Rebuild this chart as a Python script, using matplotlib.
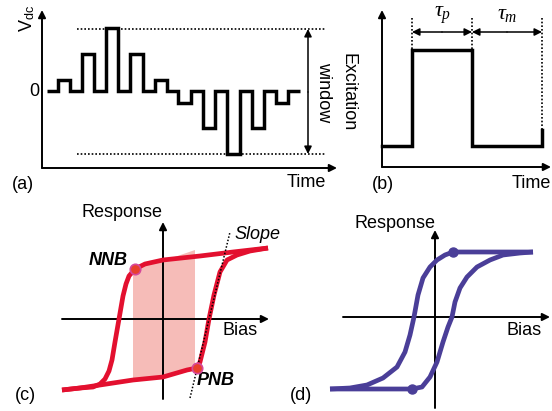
import matplotlib.pyplot as plt
import numpy as np

plt.rcParams['font.family'] = ['Liberation Sans', 'DejaVu Sans']
plt.rcParams['mathtext.fontset'] = 'custom'
plt.rcParams['mathtext.rm'] = 'Liberation Sans'
plt.rcParams['mathtext.it'] = 'Liberation Serif:italic'

# (a) excitation pulse train, pixel coords (y down)
a_edges = [47, 58, 70, 82, 94, 106, 118, 130, 143, 155, 167, 178,
           191, 203, 215, 227, 240, 252, 264, 276, 288, 300]
a_levels = [0, 11, 0, 37, 0, 63, 0, 37, 0, 11, 0, -12,
            0, -37, 0, -63, 0, -37, 0, -12, 0]
a_zero = 91

# (b) single pulse
b_x = [382, 412, 412, 472, 472, 542, 542]
b_y = [146, 146, 50, 50, 146, 146, 130]

# (c) hysteresis loop, red
c_low_x = [62, 80, 100, 133, 163, 187, 197, 200, 205, 209, 214, 220, 227, 237, 250, 268]
c_low_y = [390, 388, 385, 380, 377, 370, 368, 362, 342, 319, 295, 272, 260, 255, 251, 248]
c_up_x = [268, 233, 200, 163, 145, 135, 129, 126, 123, 119, 115, 112, 109, 105, 100, 93, 80, 62]
c_up_y = [248, 252, 256, 260, 264, 269, 276, 284, 296, 319, 342, 360, 371, 379, 384, 387, 388, 390]
c_shade_x = [133, 145, 163, 195, 195, 187, 163, 133]
c_shade_y = [270, 265, 261, 250, 370, 372, 378, 382]
c_marks_x = [135, 197]
c_marks_y = [269, 368]

# (d) hysteresis loop, purple
d_low_x = [330, 357, 412, 422, 430, 437, 443, 448, 452, 455, 460, 467, 477, 490, 503, 520, 533]
d_low_y = [389, 389, 389, 387, 377, 362, 342, 327, 317, 302, 288, 277, 267, 260, 255, 253, 252]
d_up_x = [533, 453, 445, 437, 430, 423, 418, 414, 410, 405, 397, 383, 367, 350, 330]
d_up_y = [252, 252, 255, 260, 267, 278, 295, 317, 335, 352, 367, 378, 385, 388, 389]
d_marks_x = [412, 453]
d_marks_y = [389, 252]

red = '#e3102f'
purple = '#4a3e98'

fig = plt.figure(figsize=(5.52, 4.11), dpi=100)
ax = fig.add_axes([0, 0, 1, 1])
ax.set_xlim(0, 552)
ax.set_ylim(411, 0)
ax.axis('off')


def arrow(x0, y0, x1, y1, style='-|>', lw=1.4):
    ax.annotate('', xy=(x1, y1), xytext=(x0, y0),
                arrowprops=dict(arrowstyle=style, lw=lw, color='k',
                                mutation_scale=11, shrinkA=0, shrinkB=0))


dot = dict(color='k', lw=1.2, ls=(0, (1, 1.2)))

# ---- (a)
arrow(42, 168, 42, 10)
arrow(42, 168, 337, 168)
ax.stairs([a_zero - v for v in a_levels], a_edges, baseline=None,
          color='k', lw=2.5)
ax.plot([77, 325], [29, 29], **dot)
ax.plot([77, 325], [154, 154], **dot)
arrow(308, 92, 308, 29, lw=1.1)
arrow(308, 92, 308, 154, lw=1.1)
ax.text(27, 18, r'V$_{\mathrm{dc}}$', fontsize=13, rotation=90, ha='center', va='center')
ax.text(34, 92, '0', fontsize=13, ha='center', va='center')
ax.text(23, 184, '(a)', fontsize=13, ha='center', va='center')
ax.text(306, 182, 'Time', fontsize=13, ha='center', va='center')
ax.text(324, 92, 'window', fontsize=13, rotation=270, ha='center', va='center')
ax.text(348, 92, 'Excitation', fontsize=13, rotation=270, ha='center', va='center')

# ---- (b)
arrow(382, 167, 382, 10)
arrow(382, 167, 551, 167)
ax.plot(b_x, b_y, color='k', lw=2.5, solid_joinstyle='miter')
ax.plot([412, 412], [18, 50], **dot)
ax.plot([472, 472], [18, 50], **dot)
ax.plot([542, 542], [18, 130], **dot)
arrow(442, 32, 412, 32, lw=1.1)
arrow(442, 32, 472, 32, lw=1.1)
arrow(507, 32, 472, 32, lw=1.1)
arrow(507, 32, 542, 32, lw=1.1)
ax.text(443, 15, r'$\tau_p$', fontsize=16, ha='center', va='center')
ax.text(507, 14, r'$\tau_m$', fontsize=16, ha='center', va='center')
ax.text(383, 184, '(b)', fontsize=13, ha='center', va='center')
ax.text(531, 183, 'Time', fontsize=13, ha='center', va='center')

# ---- (c)
ax.fill(c_shade_x, c_shade_y, color='#f6bcb8', lw=0, zorder=1)
arrow(163, 399, 163, 222)
arrow(62, 319, 269, 319)
ax.plot(c_low_x, c_low_y, color=red, lw=3.4, solid_capstyle='butt', zorder=3)
ax.plot(c_up_x, c_up_y, color=red, lw=3.4, solid_capstyle='butt', zorder=3)
ax.plot([190, 230], [398, 232], color='k', lw=1.1, ls=(0, (1, 1.2)), zorder=4)
ax.plot(c_marks_x, c_marks_y, 'o', ms=7.5, mfc='#e8402c', mec='#d6489a', mew=1.2, zorder=5)
ax.text(122, 212, 'Response', fontsize=13, ha='center', va='center')
ax.text(240, 330, 'Bias', fontsize=13, ha='center', va='center')
ax.text(108, 260, 'NNB', fontsize=13, fontweight='bold', style='italic', ha='center', va='center')
ax.text(216, 380, 'PNB', fontsize=13, fontweight='bold', style='italic', ha='center', va='center')
ax.text(257, 234, 'Slope', fontsize=13, style='italic', ha='center', va='center')
ax.text(25, 395, '(c)', fontsize=13, ha='center', va='center')

# ---- (d)
arrow(435, 408, 435, 230)
arrow(343, 317, 550, 317)
ax.plot(d_low_x, d_low_y, color=purple, lw=3.4, solid_capstyle='butt', zorder=3)
ax.plot(d_up_x, d_up_y, color=purple, lw=3.4, solid_capstyle='butt', zorder=3)
ax.plot(d_marks_x, d_marks_y, 'o', ms=6.5, color=purple, zorder=5)
ax.text(395, 223, 'Response', fontsize=13, ha='center', va='center')
ax.text(524, 330, 'Bias', fontsize=13, ha='center', va='center')
ax.text(301, 395, '(d)', fontsize=13, ha='center', va='center')

fig.savefig('out.png', dpi=100)
